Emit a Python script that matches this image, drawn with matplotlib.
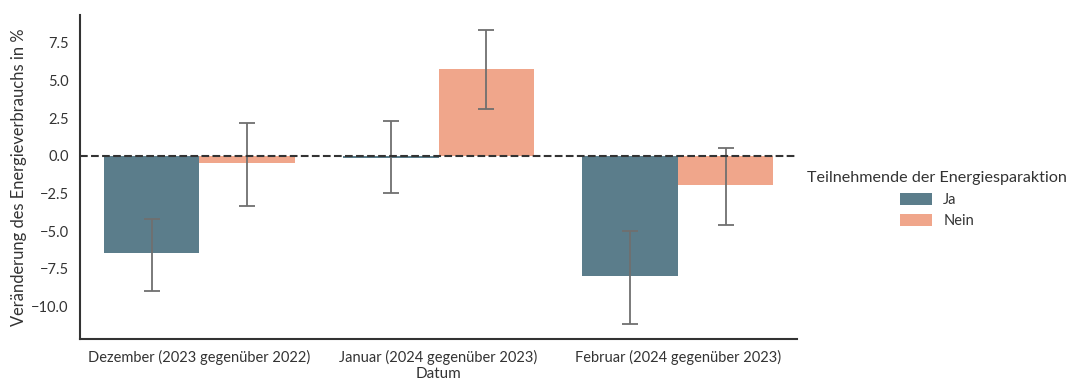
import numpy as np
import matplotlib
matplotlib.use("Agg")
import matplotlib.pyplot as plt

months = ["Dezember (2023 gegenüber 2022)", "Januar (2024 gegenüber 2023)",
          "Februar (2024 gegenüber 2023)"]
groups = ["Ja", "Nein"]
ja_values = [-6.45, -0.15, -7.95]
nein_values = [-0.5, 5.78, -1.92]
ja_ci_low = [-8.95, -2.45, -11.15]
ja_ci_high = [-4.2, 2.32, -4.97]
nein_ci_low = [-3.3, 3.12, -4.58]
nein_ci_high = [2.2, 8.38, 0.55]

colors = {"Ja": "#5b7d8b", "Nein": "#f0a68b"}

plt.rcParams['font.family'] = ['Lato', 'DejaVu Sans']
plt.rcParams['font.size'] = 10.5

fig = plt.figure(figsize=(10.79, 3.83), dpi=100)
ax = fig.add_axes([0.074, 0.115, 0.665, 0.846])

x = np.arange(len(months))
w = 0.4
series = [
    ("Ja", ja_values, ja_ci_low, ja_ci_high, -w / 2),
    ("Nein", nein_values, nein_ci_low, nein_ci_high, w / 2),
]
for name, vals, lo, hi, off in series:
    vals = np.array(vals)
    err = np.array([vals - np.array(lo), np.array(hi) - vals])
    ax.bar(x + off, vals, width=w, color=colors[name], label=name)
    ax.errorbar(x + off, vals, yerr=err, fmt="none", ecolor="#6f6f6f",
                elinewidth=1.3, capsize=6, capthick=1.3)

ax.axhline(0, color="#333333", linestyle="--", linewidth=1.5)

ax.set_xlim(-0.5, 2.5)
ax.set_ylim(-12.15, 9.35)
ax.set_yticks([-10, -7.5, -5, -2.5, 0, 2.5, 5, 7.5])
ax.set_yticklabels(["−10.0", "−7.5", "−5.0", "−2.5", "0.0", "2.5", "5.0", "7.5"])
ax.set_xticks(x)
ax.set_xticklabels(months)
ax.tick_params(length=0, pad=8, colors="#333333")
for s in ["top", "right"]:
    ax.spines[s].set_visible(False)
for s in ["left", "bottom"]:
    ax.spines[s].set_color("#333333")
    ax.spines[s].set_linewidth(1.5)

ax.set_xlabel("Datum", color="#333333", labelpad=1, fontsize=11)
ax.set_ylabel("Veränderung des Energieverbrauchs in %", color="#333333",
              fontsize=11.9, labelpad=3)

leg = ax.legend(title="Teilnehmende der Energiesparaktion", frameon=False,
                loc="center left", bbox_to_anchor=(0.995, 0.43),
                handlelength=2.2, handleheight=0.9)
leg.get_title().set_fontsize(11.6)
leg.get_title().set_color("#333333")
for t in leg.get_texts():
    t.set_color("#333333")

fig.savefig("out.png", dpi=100)
